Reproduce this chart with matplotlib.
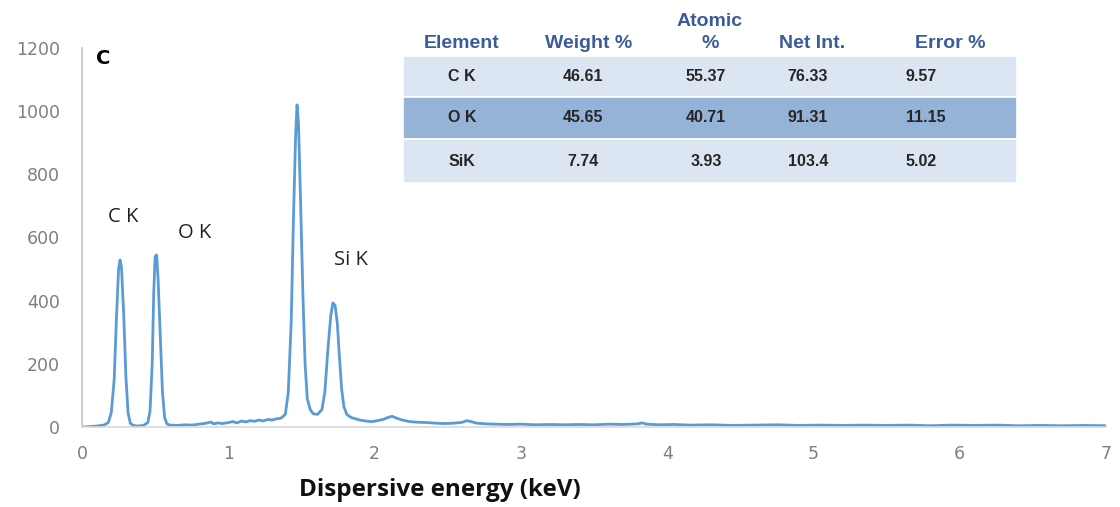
import matplotlib
matplotlib.use("Agg")
import matplotlib.pyplot as plt
from matplotlib.patches import Rectangle

# ---- spectrum data ----
energy_kev = [0.00, 0.05, 0.10, 0.15, 0.18, 0.20, 0.22, 0.235, 0.25, 0.26, 0.27, 0.285, 0.30, 0.315, 0.33, 0.35,
              0.38, 0.42, 0.45, 0.465, 0.48, 0.49, 0.50, 0.51, 0.52, 0.535, 0.55, 0.565, 0.58, 0.60,
              0.65, 0.70, 0.75, 0.80, 0.85, 0.88, 0.90, 0.93, 0.96, 1.00, 1.03, 1.06, 1.09, 1.12, 1.15,
              1.18, 1.21, 1.24, 1.27, 1.30, 1.33, 1.36, 1.39, 1.41, 1.43, 1.445, 1.46, 1.47, 1.48, 1.495,
              1.51, 1.525, 1.54, 1.56, 1.58, 1.61, 1.64, 1.66, 1.68, 1.70, 1.715, 1.73, 1.745, 1.76, 1.775,
              1.79, 1.81, 1.84, 1.87, 1.90, 1.94, 1.98, 2.02, 2.06, 2.09, 2.12, 2.15, 2.19, 2.24, 2.30,
              2.36, 2.42, 2.48, 2.54, 2.60, 2.63, 2.66, 2.70, 2.76, 2.82, 2.90, 3.00, 3.10, 3.20, 3.30,
              3.40, 3.50, 3.60, 3.70, 3.80, 3.83, 3.86, 3.95, 4.05, 4.15, 4.30, 4.45, 4.60, 4.75, 4.90,
              5.05, 5.20, 5.35, 5.50, 5.65, 5.80, 5.95, 6.10, 6.25, 6.40, 6.55, 6.70, 6.85, 7.00]
counts = [0, 1, 3, 6, 14, 45, 150, 340, 500, 529, 505, 360, 160, 45, 12, 5,
          3, 5, 14, 50, 200, 420, 540, 545, 470, 290, 110, 30, 10, 6,
          5, 7, 6, 9, 12, 16, 10, 13, 11, 14, 17, 13, 19, 16, 20,
          18, 22, 19, 24, 22, 26, 28, 40, 110, 330, 650, 920, 1020, 960, 700,
          420, 200, 90, 55, 42, 40, 55, 110, 240, 350, 393, 385, 330, 220, 120,
          65, 40, 30, 26, 22, 19, 17, 20, 24, 30, 34, 28, 22, 17, 15,
          14, 12, 11, 12, 15, 20, 17, 12, 10, 9, 8, 9, 7, 8, 7,
          8, 7, 9, 8, 10, 13, 9, 7, 8, 6, 7, 5, 6, 7, 5,
          6, 5, 6, 5, 6, 4, 6, 5, 6, 4, 5, 4, 5, 4]

peak_labels = ["C K", "O K", "Si K"]
peak_label_x = [0.28, 0.77, 1.84]
peak_label_y = [665, 615, 530]

y_ticks = [0, 200, 400, 600, 800, 1000, 1200]
x_ticks = [0, 1, 2, 3, 4, 5, 6, 7]

# ---- table data ----
table_headers = ["Element", "Weight %", "Atomic\n%", "Net Int.", "Error %"]
table_elements = ["C K", "O K", "SiK"]
weight_pct = ["46.61", "45.65", "7.74"]
atomic_pct = ["55.37", "40.71", "3.93"]
net_int = ["76.33", "91.31", "103.4"]
error_pct = ["9.57", "11.15", "5.02"]

W, H = 1120, 507
fig = plt.figure(figsize=(W / 100, H / 100), dpi=100)
ax = fig.add_axes([82 / W, 1 - 427 / H, (1106 - 82) / W, (427 - 48) / H])

line_color = "#5b9bd5"
ax.plot(energy_kev, counts, color=line_color, lw=2.0, solid_joinstyle="round")
ax.set_xlim(0, 7)
ax.set_ylim(0, 1200)
ax.set_yticks(y_ticks)
ax.set_xticks(x_ticks)
for s in ["top", "right"]:
    ax.spines[s].set_visible(False)
ax.spines["left"].set_color("#c0c0c0")
ax.spines["bottom"].set_color("#d9d9d9")
ax.spines["left"].set_linewidth(1.2)
ax.spines["bottom"].set_linewidth(1.2)
ax.tick_params(axis="y", length=0, pad=16, labelsize=12.5, labelcolor="#7f7f7f")
ax.tick_params(axis="x", length=0, pad=13, labelsize=12.5, labelcolor="#7f7f7f")
for lab in ax.get_yticklabels() + ax.get_xticklabels():
    lab.set_family(["DejaVu Sans"])

for t, x, y in zip(peak_labels, peak_label_x, peak_label_y):
    ax.text(x, y, t, fontsize=14.5, ha="center", va="center", color="#222222",
            family=["Open Sans", "DejaVu Sans"])

fig.text(103 / W, 1 - 58 / H, "C", fontsize=14, fontweight="bold", ha="center", va="center",
         family=["DejaVu Sans"])

fig.text(440 / W, 1 - 490 / H, "Dispersive energy (keV)", fontsize=17.5, fontweight="bold",
         ha="center", va="center", family=["Open Sans", "DejaVu Sans"],
         color="#111111")

# ---- table drawing ----
row_tops = [56, 97, 139]
row_bots = [97, 139, 183]
row_colors = ["#dce6f2", "#95b3d7", "#dce6f2"]
tx0, tx1 = 403, 1017
for top, bot, c in zip(row_tops, row_bots, row_colors):
    fig.patches.append(Rectangle((tx0 / W, 1 - bot / H), (tx1 - tx0) / W, (bot - top) / H,
                                 transform=fig.transFigure, facecolor=c, edgecolor="white", lw=1.2))

hdr_x = [462, 589, 710, 812, 950]
hdr_color = "#3b5b9a"
hdr_kw = dict(fontsize=14, fontweight="bold", color=hdr_color, ha="center", va="center",
              family=["Liberation Sans", "DejaVu Sans"])
for hx, ht in zip(hdr_x, table_headers):
    if "\n" in ht:
        top, bottom = ht.split("\n")
        fig.text(hx / W, 1 - 22 / H, top, **hdr_kw)
        fig.text(hx / W, 1 - 44 / H, bottom, **hdr_kw)
    else:
        fig.text(hx / W, 1 - 44 / H, ht, **hdr_kw)

col_x = [462, 583, 706, 808, 906]
col_ha = ["center", "center", "center", "center", "left"]
row_mid = [(a + b) / 2 for a, b in zip(row_tops, row_bots)]
cols = [table_elements, weight_pct, atomic_pct, net_int, error_pct]
for ci, col in enumerate(cols):
    for ri, val in enumerate(col):
        fig.text(col_x[ci] / W, 1 - row_mid[ri] / H, val, fontsize=11.5, fontweight="bold",
                 color="#262626", ha=col_ha[ci], va="center",
                 family=["Liberation Sans", "DejaVu Sans"])

fig.savefig("out.png", dpi=100, facecolor="white")
